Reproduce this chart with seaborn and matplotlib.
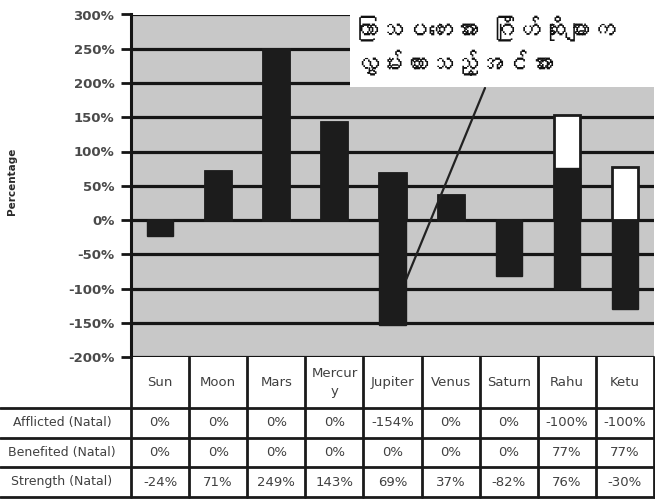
import matplotlib
matplotlib.use("Agg")
import matplotlib.pyplot as plt
from matplotlib import font_manager
from matplotlib.ft2font import FT2Font
from matplotlib.patches import Rectangle
from matplotlib.lines import Line2D
from matplotlib.transforms import blended_transform_factory
import seaborn as sns

# ---- data -------------------------------------------------------------
planets = ["Sun", "Moon", "Mars", "Mercury", "Jupiter", "Venus", "Saturn", "Rahu", "Ketu"]
planet_labels = ["Sun", "Moon", "Mars", "Mercur\ny", "Jupiter", "Venus", "Saturn", "Rahu", "Ketu"]
afflicted = [0, 0, 0, 0, -154, 0, 0, -100, -100]
benefited = [0, 0, 0, 0, 0, 0, 0, 77, 77]
strength = [-24, 71, 249, 143, 69, 37, -82, 76, -30]
row_names = ["Afflicted (Natal)", "Benefited (Natal)", "Strength (Natal)"]
y_ticks = [300, 250, 200, 150, 100, 50, 0, -50, -100, -150, -200]
note_lines = ["ကြာသပတေးအား ဂြိုဟ်ဆိုးများက", "လွှမ်းထားသည့်အင်အား"]
note_target = ("Jupiter", -86)

# ---- fonts ------------------------------------------------------------
sns.set_style("white")
myanmar_fams = []
for f in font_manager.fontManager.ttflist:
    try:
        if 0x1000 in FT2Font(f.fname).get_charmap():
            if f.name not in myanmar_fams:
                myanmar_fams.append(f.name)
    except Exception:
        pass
plt.rcParams["font.family"] = ["DejaVu Sans"]
note_family = myanmar_fams + ["DejaVu Sans"]

W, H = 655, 501
fig = plt.figure(figsize=(W / 100, H / 100), dpi=100)
fig.patch.set_facecolor("white")

def fx(px):
    return px / W

def fy(py):
    return 1 - py / H

left_px, right_px, top_px, bot_px = 131, 654, 14.5, 357
ax = fig.add_axes([fx(left_px), fy(bot_px), fx(right_px - left_px), (bot_px - top_px) / H])
ax.set_facecolor("#c8c8c8")

dark = "#1c1c1c"
# stacked layers: positives stack strength then benefited; negatives stack afflicted and strength
strength_pos = [max(s, 0) for s in strength]
pos_total = [sp + b for sp, b in zip(strength_pos, benefited)]
neg_total = [a + min(s, 0) for a, s in zip(afflicted, strength)]

bw = 0.45
sns.barplot(x=planets, y=pos_total, order=planets, color="white", saturation=1,
            width=bw, edgecolor=dark, linewidth=2, ax=ax, zorder=3)
sns.barplot(x=planets, y=strength_pos, order=planets, color=dark, saturation=1,
            width=bw, edgecolor=dark, linewidth=1, ax=ax, zorder=4)
sns.barplot(x=planets, y=neg_total, order=planets, color=dark, saturation=1,
            width=bw, edgecolor=dark, linewidth=1, ax=ax, zorder=4)

ax.set_xlim(-0.5, len(planets) - 0.5)
ax.set_ylim(-200, 300)
ax.set_yticks(y_ticks)
ax.set_yticklabels([f"{v}%" for v in y_ticks], fontsize=9.5, color="#4a4a4a",
                   fontweight="bold")
ax.set_xticks([])
ax.set_xlabel("")
ax.set_ylabel("")
for v in y_ticks:
    ax.axhline(v, color="#151515", lw=2.3, zorder=1)
ax.tick_params(axis="y", direction="out", length=7, width=2, color="#151515", pad=5, left=True)
for side in ["top", "right", "bottom"]:
    ax.spines[side].set_visible(False)
ax.spines["left"].set_color("#151515")
ax.spines["left"].set_linewidth(2.2)

fig.text(fx(11.5), fy(181), "Percentage", rotation=90, ha="center", va="center",
         fontsize=7.5, fontweight="bold", color="#2a2a2a")

# ---- data table below the plot -----------------------------------------
trans = blended_transform_factory(ax.transData, fig.transFigure)
row_edges = [357, 408, 437.5, 467, 497]
line_kw = dict(color="#1a1a1a", lw=2, clip_on=False)
n = len(planets)
for i in range(n + 1):
    fig.add_artist(Line2D([i - 0.5, i - 0.5], [fy(row_edges[0]), fy(row_edges[-1])],
                          transform=trans, **line_kw))
for yy in row_edges[1:]:
    fig.add_artist(Line2D([0, 1], [fy(yy), fy(yy)], transform=fig.transFigure, **line_kw))

txt_kw = dict(ha="center", va="center", fontsize=9.5, color="#404040")
for i, lab in enumerate(planet_labels):
    fig.text(i, fy((row_edges[0] + row_edges[1]) / 2), lab, transform=trans,
             linespacing=1.5, **txt_kw)
series = [afflicted, benefited, strength]
for r, (name, vals) in enumerate(zip(row_names, series)):
    yc = fy((row_edges[r + 1] + row_edges[r + 2]) / 2)
    fig.text(fx(62), yc, name, ha="center", va="center", fontsize=9, color="#404040")
    for i, v in enumerate(vals):
        fig.text(i, yc, f"{v}%", transform=trans, **txt_kw)

# ---- annotation -----------------------------------------------------------
fig.add_artist(Rectangle((fx(350), fy(87)), 1 - fx(350), 1 - fy(87),
                         transform=fig.transFigure, facecolor="white",
                         edgecolor="none", zorder=5))
fig.text(fx(353), fy(28), note_lines[0], ha="left", va="center", fontsize=18,
         family=note_family, color="#111111", zorder=6)
fig.text(fx(353), fy(62), note_lines[1], ha="left", va="center", fontsize=18,
         family=note_family, color="#111111", zorder=6)
ax.annotate("", xy=(planets.index(note_target[0]) + 0.24, note_target[1]), xycoords="data",
            xytext=(fx(485), fy(88)), textcoords="figure fraction",
            arrowprops=dict(arrowstyle="-", lw=1.6, color="#222222",
                            shrinkA=0, shrinkB=0),
            annotation_clip=False, zorder=6)

fig.savefig("out.png", dpi=100, facecolor="white")
